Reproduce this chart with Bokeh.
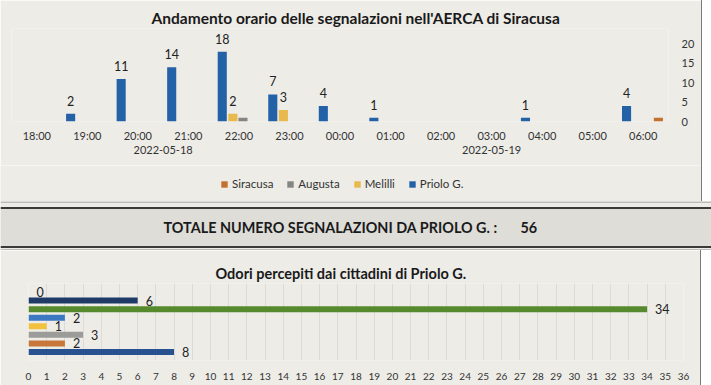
from bokeh.plotting import figure
from bokeh.models import (FactorRange, Range1d, ColumnDataSource, Legend, LegendItem,
                          Title, Label, Span, BoxAnnotation, FixedTicker)
from bokeh.transform import dodge
from bokeh.embed import file_html
from bokeh.resources import INLINE
from bokeh.core.properties import value

# ---------------- data ----------------
hours = ["18:00", "19:00", "20:00", "21:00", "22:00", "23:00", "00:00",
         "01:00", "02:00", "03:00", "04:00", "05:00", "06:00"]
dates = ["2022-05-18"] * 6 + ["2022-05-19"] * 7
siracusa = [0, 0, 0, 0, 0, 0, 0, 0, 0, 0, 0, 0, 1]
augusta = [0, 0, 0, 0, 1, 0, 0, 0, 0, 0, 0, 0, 0]
melilli = [0, 0, 0, 0, 2, 3, 0, 0, 0, 0, 0, 0, 0]
priolo = [0, 2, 11, 14, 18, 7, 4, 1, 0, 0, 1, 0, 4]
series_names = ["Siracusa", "Augusta", "Melilli", "Priolo G."]
top_ticks = [0, 5, 10, 15, 20]

total_priolo = 56

odor_categories = ["Categoria 1", "Categoria 2", "Categoria 3", "Categoria 4",
                   "Categoria 5", "Categoria 6", "Categoria 7", "Categoria 8"]
odor_values = [8, 2, 3, 1, 2, 34, 6, 0]   # bottom to top
bottom_ticks = list(range(0, 37))

# ---------------- style ----------------
PAPER = "#EDECE7"
BAND = "#DEDDD7"
FONT = "Lato"
C_SIR = "#C4712F"
C_AUG = "#858583"
C_MEL = "#E8B94C"
C_PRI = "#2462A8"
series_colors = [C_SIR, C_AUG, C_MEL, C_PRI]
odor_colors = ["#27528F", "#C8773A", "#9B9B99", "#F2C23E", "#3C79C0",
               "#578A2E", "#1F3A66", "#9E480E"]

# ---------------- top chart ----------------
factors = list(zip(dates, hours))
xr = FactorRange(*factors, factor_padding=0, group_padding=0, range_padding=0)
top = figure(width=701, height=165, x_range=xr, y_range=Range1d(0, 24),
             output_backend="svg", toolbar_location=None, y_axis_location="right",
             min_border_left=11, min_border_right=33, min_border_top=28, min_border_bottom=44,
             background_fill_color=PAPER, border_fill_color=PAPER, outline_line_color=None,
             styles={"box-shadow": "1px 0 0 #7a7a78"})
top.add_layout(Title(text="Andamento orario delle segnalazioni nell'AERCA di Siracusa",
                     align="left", offset=140, standoff=3, text_font=FONT,
                     text_font_size="15.5px", text_font_style="bold", text_color="#1a1a1a"),
               "above")

src = ColumnDataSource(dict(x=factors, siracusa=siracusa, augusta=augusta,
                            melilli=melilli, priolo=priolo))
W = 0.18
top.vbar(x=dodge("x", -0.33, range=xr), top="priolo", width=W, source=src,
         fill_color=C_PRI, line_color=None)
top.vbar(x=dodge("x", -0.12, range=xr), top="melilli", width=W, source=src,
         fill_color=C_MEL, line_color=None)
top.vbar(x=dodge("x", 0.08, range=xr), top="augusta", width=W, source=src,
         fill_color=C_AUG, line_color=None)
top.vbar(x=dodge("x", 0.30, range=xr), top="siracusa", width=W, source=src,
         fill_color=C_SIR, line_color=None)

def label_src(vals):
    xs = [f for f, v in zip(factors, vals) if v > 0]
    vs = [v for v in vals if v > 0]
    return ColumnDataSource(dict(x=xs, v=vs, t=[str(v) for v in vs]))

for vals, off in ((priolo, -0.33), (melilli, -0.12)):
    top.text(x=dodge("x", off, range=xr), y="v", text="t", source=label_src(vals),
             text_align="center", text_baseline="alphabetic", y_offset=-13,
             text_font=value(FONT), text_font_size="12.5px", text_color="#222222")

top.xgrid.grid_line_color = None
top.ygrid.grid_line_color = None
xa = top.xaxis[0]
xa.axis_line_color = None
xa.major_tick_line_color = None
xa.minor_tick_line_color = None
xa.separator_line_color = None
xa.major_label_standoff = 1
xa.major_label_text_font = FONT
xa.major_label_text_font_size = "11px"
xa.major_label_text_color = "#333333"
xa.group_text_font = FONT
xa.group_text_font_size = "11px"
xa.group_text_font_style = "normal"
xa.group_text_color = "#333333"
ya = top.yaxis[0]
ya.ticker = FixedTicker(ticks=top_ticks)
ya.axis_line_color = None
ya.major_tick_line_color = None
ya.minor_tick_line_color = None
ya.major_label_standoff = 7
ya.major_label_text_font = FONT
ya.major_label_text_font_size = "11px"
ya.major_label_text_color = "#333333"

# ---------------- legend strip of the top chart ----------------
leg = figure(width=701, height=36, x_range=Range1d(0, 1), y_range=Range1d(0, 1),
             output_backend="svg", toolbar_location=None,
             min_border_left=0, min_border_right=0, min_border_top=0, min_border_bottom=0,
             background_fill_color=PAPER, border_fill_color=PAPER, outline_line_color=None,
             styles={"box-shadow": "1px 0 0 #7a7a78"})
leg.axis.visible = False
leg.grid.visible = False
items = []
for name, col in zip(series_names, series_colors):
    # zero-height bar: only serves as the legend's colour swatch
    r = leg.vbar(x="x", top="top", bottom=0, width=0.1,
                 source=ColumnDataSource(dict(x=[0.5], top=[0])),
                 fill_color=col, line_color=None)
    items.append(LegendItem(label=name, renderers=[r]))
legend = Legend(items=items, orientation="horizontal", location=(220, 11),
                background_fill_alpha=0, border_line_color=None,
                glyph_width=8, glyph_height=8, label_standoff=4, spacing=13,
                padding=2, margin=0,
                label_text_font=FONT, label_text_font_size="11.5px",
                label_text_color="#333333")
leg.add_layout(legend, "center")

# ---------------- middle band ----------------
mid = figure(width=711, height=49, x_range=Range1d(0, 711), y_range=Range1d(49, 0),
             output_backend="svg", toolbar_location=None,
             min_border_left=0, min_border_right=0, min_border_top=0, min_border_bottom=0,
             background_fill_color=PAPER, border_fill_color=PAPER, outline_line_color=None)
mid.axis.visible = False
mid.grid.visible = False
mid.add_layout(BoxAnnotation(top=7.5, bottom=44.5, fill_color=BAND, fill_alpha=1, line_color=None))
mid.add_layout(Span(location=0.5, dimension="width", line_color="#8a8a88", line_width=1))
mid.add_layout(Span(location=6.5, dimension="width", line_color="#3a3a38", line_width=2))
mid.add_layout(Span(location=45.5, dimension="width", line_color="#3a3a38", line_width=2))
mid.add_layout(Span(location=48.5, dimension="width", line_color="#8a8a88", line_width=1))
mid.add_layout(Label(x=163, y=25.5, text="TOTALE NUMERO SEGNALAZIONI DA PRIOLO G. :",
                     text_font=FONT, text_font_size="14.4px", text_font_style="bold",
                     text_baseline="middle", text_color="#1a1a1a"))
mid.add_layout(Label(x=520, y=25.5, text=str(total_priolo),
                     text_font=FONT, text_font_size="14.4px", text_font_style="bold",
                     text_baseline="middle", text_color="#1a1a1a"))

# ---------------- bottom chart ----------------
yr = FactorRange(*odor_categories, factor_padding=0, range_padding=0.5,
                 range_padding_units="absolute")
bot = figure(width=700, height=135, x_range=Range1d(0, 36), y_range=yr,
             output_backend="svg", toolbar_location=None,
             min_border_left=28, min_border_right=17, min_border_top=33, min_border_bottom=25,
             background_fill_color=PAPER, border_fill_color=PAPER, outline_line_color=None,
             styles={"box-shadow": "1px 0 0 #7a7a78"})
bot.add_layout(Title(text="Odori percepiti dai cittadini di Priolo G.", align="left",
                     offset=187, standoff=3, text_font=FONT, text_font_size="14.5px",
                     text_font_style="bold", text_color="#1a1a1a"), "above")
bsrc = ColumnDataSource(dict(cat=odor_categories, val=odor_values,
                             t=[str(v) for v in odor_values], color=odor_colors))
bot.hbar(y="cat", right="val", left=0, height=0.7, source=bsrc,
         fill_color="color", line_color=None)
bot.text(x="val", y="cat", text="t", source=bsrc, x_offset=8, text_align="left",
         text_baseline="middle", text_font=value(FONT), text_font_size="12.5px",
         text_color="#222222")
bot.ygrid.grid_line_color = None
bot.xgrid.ticker = FixedTicker(ticks=bottom_ticks)
bot.xgrid.grid_line_color = "#DCDBD5"
bot.yaxis.visible = False
bx = bot.xaxis[0]
bx.ticker = FixedTicker(ticks=bottom_ticks)
bx.axis_line_color = None
bx.major_tick_line_color = None
bx.minor_tick_line_color = None
bx.major_label_standoff = 6
bx.major_label_text_font = FONT
bx.major_label_text_font_size = "10px"
bx.major_label_text_color = "#333333"

open("out.html", "w").write(file_html([top, leg, mid, bot], INLINE))
